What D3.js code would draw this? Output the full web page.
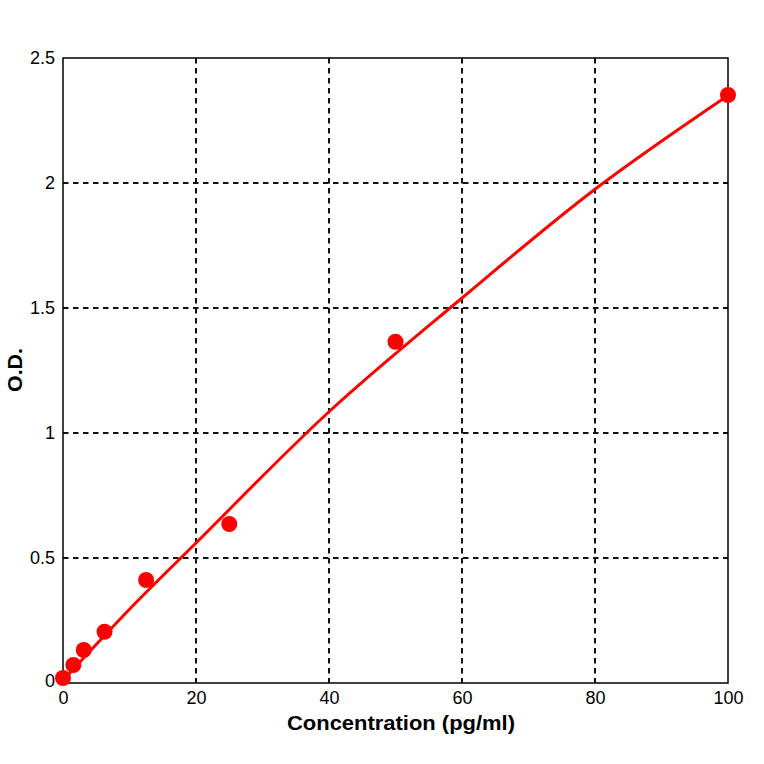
<!DOCTYPE html>
<html>
<head>
<meta charset="utf-8">
<script src="https://cdn.jsdelivr.net/npm/d3@7"></script>
<style>
  body { margin: 0; background: #fff; }
  svg { display: block; }
</style>
</head>
<body>
<div id="chart"></div>
<script>
// standard points (concentration pg/ml, O.D.)
var stdConc = [0, 1.56, 3.12, 6.25, 12.5, 25, 50, 100];
var stdOD = [0.02, 0.072, 0.132, 0.205, 0.412, 0.636, 1.365, 2.352];

// fitted curve
var fitConc = [0, 10, 20, 40, 60, 80, 100];
var fitOD = [0.01, 0.295, 0.56, 1.085, 1.54, 1.975, 2.35];

var xTicks = [0, 20, 40, 60, 80, 100];
var yTicks = [0, 0.5, 1, 1.5, 2, 2.5];

var margin = {top: 58, right: 36, bottom: 81, left: 63},
    width = 764 - margin.left - margin.right,
    height = 764 - margin.top - margin.bottom;

var svg = d3.select("#chart")
  .append("svg")
  .attr("width", 764)
  .attr("height", 764)
  .append("g")
  .attr("transform", "translate(" + margin.left + "," + margin.top + ")");

var x = d3.scaleLinear().domain([0, 100]).range([0, width]);
var y = d3.scaleLinear().domain([0, 2.5]).range([height, 0]);

// dashed grid
svg.append("g")
  .selectAll("line")
  .data(xTicks.slice(1, -1))
  .enter()
  .append("line")
    .attr("x1", function (d) { return x(d); })
    .attr("x2", function (d) { return x(d); })
    .attr("y1", 0)
    .attr("y2", height)
    .attr("stroke", "#111")
    .attr("stroke-width", 2)
    .attr("stroke-dasharray", "5.5,4.5");

svg.append("g")
  .selectAll("line")
  .data(yTicks.slice(1, -1))
  .enter()
  .append("line")
    .attr("x1", 0)
    .attr("x2", width)
    .attr("y1", function (d) { return y(d); })
    .attr("y2", function (d) { return y(d); })
    .attr("stroke", "#111")
    .attr("stroke-width", 2)
    .attr("stroke-dasharray", "5.5,4.5");

// box
svg.append("rect")
  .attr("x", 0).attr("y", 0)
  .attr("width", width).attr("height", height)
  .attr("fill", "none")
  .attr("stroke", "#000")
  .attr("stroke-width", 1.5);

// axes (labels only)
var xAxis = svg.append("g")
  .attr("transform", "translate(0," + height + ")")
  .call(d3.axisBottom(x).tickValues(xTicks).tickSize(0).tickPadding(8).tickFormat(d3.format("d")));
xAxis.select(".domain").remove();
xAxis.selectAll("text")
  .style("font-family", "'Liberation Sans', Arial, sans-serif")
  .style("font-size", "18px")
  .attr("fill", "#000");

var yAxis = svg.append("g")
  .call(d3.axisLeft(y).tickValues(yTicks).tickSize(0).tickPadding(8).tickFormat(function (d) { return String(d); }));
yAxis.select(".domain").remove();
yAxis.selectAll("text")
  .style("font-family", "'Liberation Sans', Arial, sans-serif")
  .style("font-size", "18px")
  .attr("fill", "#000");
// the "0" on y sits a little lower, like the original
yAxis.selectAll(".tick").filter(function (d) { return d === 0; }).select("text").attr("dy", "0.2em");

// fitted curve
var line = d3.line()
  .x(function (d, i) { return x(fitConc[i]); })
  .y(function (d) { return y(d); })
  .curve(d3.curveCatmullRom);

svg.append("path")
  .datum(fitOD)
  .attr("d", line)
  .attr("fill", "none")
  .attr("stroke", "#ff0000")
  .attr("stroke-width", 3);

// standard points
svg.append("g")
  .selectAll("circle")
  .data(stdOD)
  .enter()
  .append("circle")
    .attr("cx", function (d, i) { return x(stdConc[i]); })
    .attr("cy", function (d) { return y(d); })
    .attr("r", 8)
    .attr("fill", "#ff0000");

// axis titles
svg.append("text")
  .attr("x", 287 - margin.left)
  .attr("y", height + 47)
  .attr("textLength", 228)
  .attr("lengthAdjust", "spacingAndGlyphs")
  .style("font-family", "'Liberation Sans', Arial, sans-serif")
  .style("font-weight", "bold")
  .style("font-size", "20px")
  .text("Concentration (pg/ml)");

svg.append("text")
  .attr("transform", "translate(" + (-margin.left + 22) + "," + (392 - margin.top) + ") rotate(-90)")
  .attr("textLength", 44)
  .attr("lengthAdjust", "spacingAndGlyphs")
  .style("font-family", "'Liberation Sans', Arial, sans-serif")
  .style("font-weight", "bold")
  .style("font-size", "20px")
  .text("O.D.");
</script>
</body>
</html>
